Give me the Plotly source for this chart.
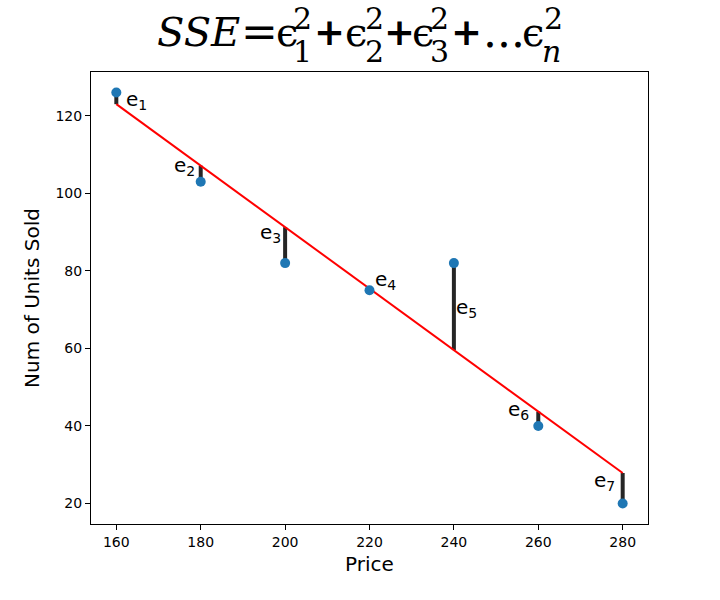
import numpy as np
import plotly.graph_objects as go

# ---- data ----
price = [160, 180, 200, 220, 240, 260, 280]
units = [126, 103, 82, 75, 82, 40, 20]
labels = ["1", "2", "3", "4", "5", "6", "7"]
# label placement (data coords) and side
label_x = [162.1, 178.9, 199.2, 221.0, 240.3, 258.0, 278.3]
label_y = [124.0, 107.0, 89.7, 77.6, 70.3, 44.1, 25.9]
label_side = ["left", "right", "right", "left", "left", "right", "right"]

x_ticks = [160, 180, 200, 220, 240, 260, 280]
y_ticks = [20, 40, 60, 80, 100, 120]

# least squares fit
slope, intercept = np.polyfit(price, units, 1)
fit = [slope * p + intercept for p in price]

W, H = 720, 600
L, R, T, B = 91, 72, 72, 76
PW, PH = W - L - R, H - T - B

fig = go.Figure()

# residual segments
rx, ry = [], []
for p, u, f in zip(price, units, fit):
    rx += [p, p, None]
    ry += [u, f, None]
fig.add_trace(go.Scatter(x=rx, y=ry, mode="lines",
                         line=dict(color="rgba(0,0,0,0.85)", width=4),
                         hoverinfo="skip", showlegend=False))
# regression line
fig.add_trace(go.Scatter(x=price, y=fit, mode="lines",
                         line=dict(color="red", width=2),
                         showlegend=False))
# points
fig.add_trace(go.Scatter(x=price, y=units, mode="markers",
                         marker=dict(color="#1f77b4", size=10),
                         showlegend=False))

annotations = []
for lx, ly, lab, side in zip(label_x, label_y, labels, label_side):
    annotations.append(dict(x=lx, y=ly, xref="x", yref="y",
                            text=f"e<sub>{lab}</sub>", showarrow=False,
                            xanchor=side, yanchor="middle", yshift=0,
                            borderpad=0,
                            font=dict(family="DejaVu Sans", size=20, color="black")))

# title built from pieces (math-like)
def px2paper(px, py):
    return (px - L) / PW, 1 - (py - T) / PH

big = 44
eps = 40
small = 30
op = 37
SER = "DejaVu Serif"
SAN = "DejaVu Sans"
pieces = [
    (156, 32, "SSE", 40, SER, True, False),
    (240, 31, "=", big, SER, False, False),
    (275, 32, "\u03f5", eps, SER, False, False),
    (292, 19, "2", small, SER, False, False),
    (292, 51, "1", small, SER, False, False),
    (313, 32, "+", op, SAN, False, True),
    (344, 32, "\u03f5", eps, SER, False, False),
    (364, 19, "2", small, SER, False, False),
    (364, 51, "2", small, SER, False, False),
    (383, 32, "+", op, SAN, False, True),
    (411, 32, "\u03f5", eps, SER, False, False),
    (429, 19, "2", small, SER, False, False),
    (429, 51, "3", small, SER, False, False),
    (450, 32, "+", op, SAN, False, True),
    (482, 31, "...", big, SER, False, False),
    (521, 32, "\u03f5", eps, SER, False, False),
    (543, 19, "2", small, SER, False, False),
    (541, 51, "n", small, SER, True, False),
]
for px, py, txt, size, fam, ital, bold in pieces:
    ax, ay = px2paper(px, py)
    t = txt
    if ital:
        t = f"<i>{t}</i>"
    if bold:
        t = f"<b>{t}</b>"
    annotations.append(dict(x=ax, y=ay, xref="paper", yref="paper",
                            text=t, showarrow=False, xanchor="left",
                            yanchor="middle", borderpad=0,
                            font=dict(family=fam, size=size, color="black")))

axis_common = dict(showline=True, linecolor="black", linewidth=1, mirror=True,
                   ticks="outside", ticklen=5, tickwidth=1, tickcolor="black",
                   showgrid=False, zeroline=False,
                   tickfont=dict(family="DejaVu Sans", size=14, color="black"))

fig.update_layout(
    width=W, height=H,
    margin=dict(l=L, r=R, t=T, b=B),
    paper_bgcolor="white", plot_bgcolor="white",
    xaxis=dict(range=[154, 286], tickvals=x_ticks,
               title=dict(text="Price", font=dict(family="DejaVu Sans", size=20, color="black"),
                          standoff=8),
               **axis_common),
    yaxis=dict(range=[14.7, 131.3], tickvals=y_ticks,
               title=dict(text="Num of Units Sold", font=dict(family="DejaVu Sans", size=20, color="black"),
                          standoff=10),
               **axis_common),
    annotations=annotations,
)

fig.write_html("out.html")
